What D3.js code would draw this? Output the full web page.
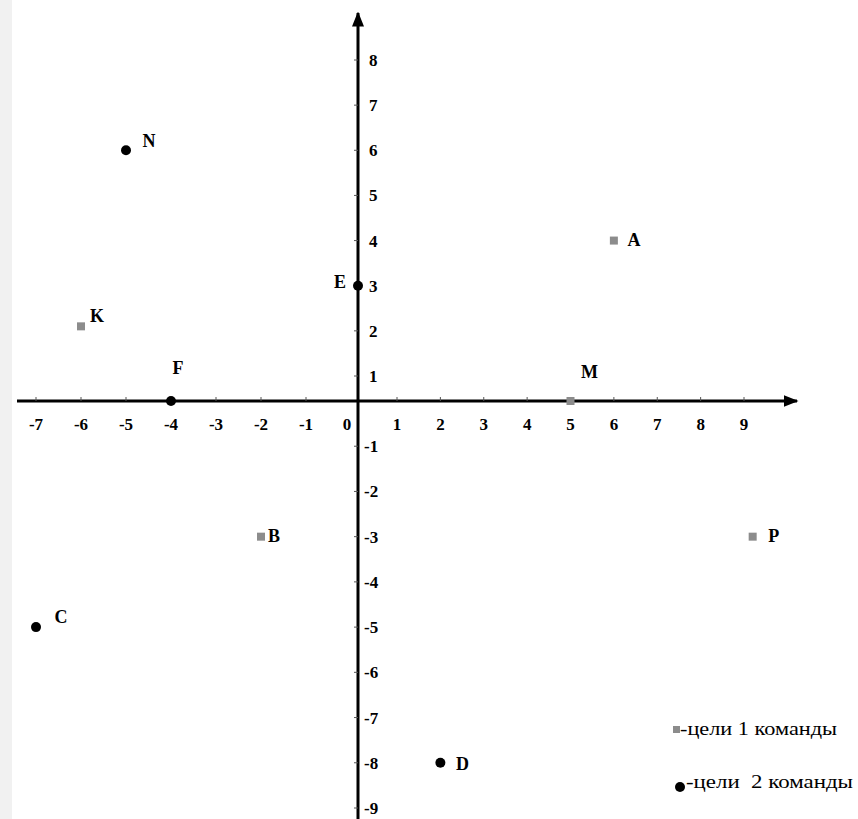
<!DOCTYPE html>
<html>
<head>
<meta charset="utf-8">
<script src="https://cdn.jsdelivr.net/npm/d3@7"></script>
<style>
  body { margin: 0; background: #fff; }
  text { font-family: "Liberation Serif", "Times New Roman", serif; }
</style>
</head>
<body>
<div id="chart"></div>
<script>
// points of team 1 (squares) and team 2 (circles)
var team1Names = ["A", "K", "B", "P", "M"];
var team1X = [6, -6, -2, 9.2, 5];
var team1Y = [4, 2.1, -3, -3, 0];

var team2Names = ["N", "E", "F", "C", "D"];
var team2X = [-5, 0, -4, -7, 2];
var team2Y = [6, 3, 0, -5, -8];

var xTicks = [-7, -6, -5, -4, -3, -2, -1, 1, 2, 3, 4, 5, 6, 7, 8, 9];
var yTicks = [8, 7, 6, 5, 4, 3, 2, 1, -1, -2, -3, -4, -5, -6, -7, -8, -9];

var legendLabels = ["-цели 1 команды", "-цели  2 команды"];

var width = 858, height = 819;

var svg = d3.select("#chart").append("svg")
    .attr("width", width)
    .attr("height", height);

// light strip on the left edge
svg.append("rect")
    .attr("x", 0).attr("y", 0)
    .attr("width", 12).attr("height", height)
    .attr("fill", "#f1f1f1");

// the hand drawing is uneven around zero, so the scales are piecewise
var x = d3.scaleLinear()
    .domain([-7, -1, 0, 1, 9])
    .range([36, 306, 358, 397, 744]);
var y = d3.scaleLinear()
    .domain([-9, 0, 1, 8])
    .range([808, 401, 376, 60]);

svg.append("defs").append("marker")
    .attr("id", "arrow")
    .attr("viewBox", "0 0 10 10")
    .attr("refX", 9).attr("refY", 5)
    .attr("markerWidth", 5).attr("markerHeight", 5)
    .attr("orient", "auto")
    .append("path")
    .attr("d", "M0,1 L10,5 L0,9 Z")
    .attr("fill", "#000");

// x axis line
svg.append("line")
    .attr("x1", 17).attr("x2", 797)
    .attr("y1", y(0)).attr("y2", y(0))
    .attr("stroke", "#000")
    .attr("stroke-width", 3)
    .attr("marker-end", "url(#arrow)");

// y axis line
svg.append("line")
    .attr("x1", x(0)).attr("x2", x(0))
    .attr("y1", height).attr("y2", 13)
    .attr("stroke", "#000")
    .attr("stroke-width", 3)
    .attr("marker-end", "url(#arrow)");

// tick marks
svg.selectAll(".xtick")
    .data(xTicks)
    .enter().append("line")
    .attr("class", "xtick")
    .attr("x1", function (d) { return x(d); })
    .attr("x2", function (d) { return x(d); })
    .attr("y1", y(0) - 4).attr("y2", y(0))
    .attr("stroke", "#555")
    .attr("stroke-width", 1);

svg.selectAll(".ytick")
    .data(yTicks)
    .enter().append("line")
    .attr("class", "ytick")
    .attr("x1", x(0) - 4).attr("x2", x(0))
    .attr("y1", function (d) { return y(d); })
    .attr("y2", function (d) { return y(d); })
    .attr("stroke", "#555")
    .attr("stroke-width", 1);

// tick labels
svg.selectAll(".xlab")
    .data(xTicks)
    .enter().append("text")
    .attr("class", "xlab")
    .attr("x", function (d) { return x(d); })
    .attr("y", y(0) + 29)
    .attr("text-anchor", "middle")
    .style("font-size", "17px")
    .style("font-weight", "bold")
    .text(function (d) { return d; });

svg.append("text")
    .attr("x", x(0) - 11)
    .attr("y", y(0) + 29)
    .attr("text-anchor", "middle")
    .style("font-size", "17px")
    .style("font-weight", "bold")
    .text("0");

svg.selectAll(".ylab")
    .data(yTicks)
    .enter().append("text")
    .attr("class", "ylab")
    .attr("x", function (d) { return d < 0 ? x(0) + 6 : x(0) + 11; })
    .attr("y", function (d) { return y(d) + 6; })
    .style("font-size", "17px")
    .style("font-weight", "bold")
    .text(function (d) { return d; });

// team 1: grey squares, team 2: black dots
var team1 = team1Names.map(function (n, i) { return {name: n, x: team1X[i], y: team1Y[i]}; });
var team2 = team2Names.map(function (n, i) { return {name: n, x: team2X[i], y: team2Y[i]}; });

svg.selectAll(".sq")
    .data(team1)
    .enter().append("rect")
    .attr("class", "sq")
    .attr("x", function (d) { return x(d.x) - 4; })
    .attr("y", function (d) { return y(d.y) - 4; })
    .attr("width", 8).attr("height", 8)
    .attr("fill", "#8c8c8c");

svg.selectAll(".dot")
    .data(team2)
    .enter().append("circle")
    .attr("class", "dot")
    .attr("cx", function (d) { return x(d.x); })
    .attr("cy", function (d) { return y(d.y); })
    .attr("r", 5)
    .attr("fill", "#000");

// label centre offsets from the mark, picked by eye
var offsets = {
    A: [20, -1], K: [16, -10], B: [13, -1], P: [21, -1], M: [19, -29],
    N: [23, -9], E: [-18, -4], F: [7, -33], C: [25, -10], D: [22, 1]
};

svg.selectAll(".plab")
    .data(team1.concat(team2))
    .enter().append("text")
    .attr("class", "plab")
    .attr("x", function (d) { return x(d.x) + offsets[d.name][0]; })
    .attr("y", function (d) { return y(d.y) + offsets[d.name][1] + 6; })
    .attr("text-anchor", "middle")
    .style("font-size", "18px")
    .style("font-weight", "bold")
    .text(function (d) { return d.name; });

// legend
svg.append("rect")
    .attr("x", 673).attr("y", 726)
    .attr("width", 7).attr("height", 7)
    .attr("fill", "#8c8c8c");
svg.append("circle")
    .attr("cx", 680).attr("cy", 787)
    .attr("r", 5)
    .attr("fill", "#000");

var legendWidths = [157, 167];
svg.selectAll(".leg")
    .data(legendLabels)
    .enter().append("text")
    .attr("class", "leg")
    .attr("x", function (d, i) { return i == 0 ? 680 : 686; })
    .attr("y", function (d, i) { return i == 0 ? 735 : 788; })
    .attr("textLength", function (d, i) { return legendWidths[i]; })
    .attr("lengthAdjust", "spacingAndGlyphs")
    .attr("xml:space", "preserve")
    .style("font-size", "19px")
    .style("white-space", "pre")
    .text(function (d) { return d; });
</script>
</body>
</html>
